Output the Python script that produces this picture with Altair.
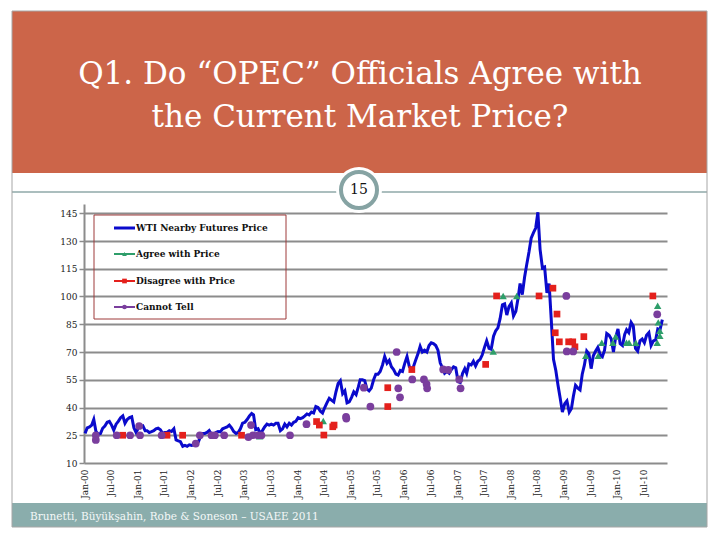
import altair as alt
import pandas as pd

# ---------------- data ----------------
# WTI nearby futures price, two readings per month (around the 8th and the 23rd)
wti_2000 = [26.0, 29.0, 29.5, 30.5, 33.5, 27.0, 25.5, 25.9, 28.8, 30.0, 32.0, 32.5,
            30.5, 27.8, 31.0, 32.5, 34.5, 35.5, 31.5, 33.5, 34.5, 35.0, 29.0, 26.5]
wti_2001 = [29.0, 29.5, 30.0, 27.5, 27.5, 26.5, 27.0, 27.5, 28.5, 28.8, 28.0, 26.0,
            26.5, 26.5, 27.5, 27.0, 28.5, 22.5, 22.0, 21.5, 19.0, 19.5, 19.0, 19.8]
wti_2002 = [19.5, 19.8, 20.5, 21.5, 24.0, 26.0, 26.0, 26.5, 27.5, 25.5, 25.0, 26.5,
            27.0, 26.8, 28.5, 29.0, 29.5, 30.5, 29.0, 27.0, 26.0, 26.5, 28.5, 31.5]
wti_2003 = [32.0, 33.5, 35.5, 36.8, 36.0, 28.0, 28.5, 26.0, 27.5, 29.5, 31.0, 30.5,
            31.0, 30.5, 31.5, 31.5, 27.5, 28.5, 31.0, 29.5, 31.5, 30.5, 32.0, 32.5]
wti_2004 = [34.5, 34.0, 34.5, 35.5, 36.5, 36.0, 37.5, 37.0, 40.5, 40.0, 38.0, 37.0,
            40.0, 42.5, 45.0, 44.0, 43.0, 48.5, 53.0, 54.5, 47.5, 49.0, 42.5, 43.0]
wti_2005 = [45.5, 48.5, 47.0, 51.0, 55.0, 55.0, 54.5, 50.0, 49.0, 50.5, 55.0, 58.0,
            58.0, 59.5, 63.0, 67.5, 64.0, 65.5, 62.0, 60.5, 58.0, 57.5, 60.0, 59.5]
wti_2006 = [64.0, 67.5, 62.0, 61.0, 62.0, 65.5, 69.0, 73.0, 70.0, 71.0, 70.0, 73.5,
            75.0, 74.5, 73.5, 71.0, 64.0, 61.5, 58.5, 59.5, 58.5, 60.5, 62.0, 61.5]
wti_2007 = [54.0, 53.5, 58.5, 61.0, 58.5, 63.5, 63.0, 65.0, 62.5, 65.0, 66.0, 68.5,
            72.5, 76.0, 72.0, 71.5, 78.5, 81.5, 83.0, 88.0, 95.5, 96.0, 90.0, 94.5]
wti_2008 = [96.5, 89.5, 92.0, 99.0, 107.0, 101.0, 110.5, 117.5, 124.0, 131.5, 134.5, 137.0,
            145.5, 125.5, 115.5, 116.0, 102.0, 107.0, 87.0, 66.0, 60.0, 52.0, 45.0, 37.5]
wti_2009 = [42.0, 43.5, 37.5, 39.5, 46.0, 52.0, 50.5, 49.5, 58.0, 63.0, 70.5, 69.0,
            61.0, 68.0, 70.5, 72.5, 68.5, 67.5, 71.0, 80.0, 79.0, 77.0, 70.0, 78.0]
wti_2010 = [82.5, 74.5, 73.5, 79.5, 82.0, 80.5, 86.0, 84.0, 72.0, 70.5, 76.0, 77.0,
            75.0, 79.0, 80.5, 73.5, 76.0, 76.5, 82.5, 82.0, 87.5]
wti_years = [wti_2000, wti_2001, wti_2002, wti_2003, wti_2004, wti_2005,
             wti_2006, wti_2007, wti_2008, wti_2009, wti_2010]
reading_days = [8, 23]

agree_dates = ["2003-04-19", "2004-06-28", "2007-09-06", "2007-11-13", "2008-02-14",
               "2009-06-01", "2009-08-25", "2009-09-19", "2009-12-04", "2009-12-23",
               "2010-03-07", "2010-03-25", "2010-05-10", "2010-10-07", "2010-10-11",
               "2010-10-22", "2010-10-22", "2010-10-04"]
agree_values = [24.5, 32.7, 70.2, 100.3, 100.3,
                67.9, 67.9, 75.0, 75.0, 78.3,
                75.0, 75.0, 75.0, 95.0, 86.0,
                81.4, 78.7, 75.0]

disagree_dates = ["2000-09-22", "2001-07-23", "2001-11-07", "2002-12-16", "2004-05-13",
                  "2004-06-01", "2004-07-02", "2004-09-01", "2004-09-10", "2005-09-13",
                  "2005-09-13", "2006-02-25", "2007-07-16", "2007-09-29", "2008-07-16",
                  "2008-10-19", "2008-11-16", "2008-11-04", "2008-12-02", "2009-02-04",
                  "2009-03-04", "2009-03-19", "2009-05-19", "2010-09-04"]
disagree_values = [25.0, 25.0, 25.0, 25.0, 32.4,
                   30.5, 25.1, 29.6, 30.5, 50.7,
                   40.5, 60.5, 63.3, 100.3, 100.3,
                   104.5, 90.5, 80.4, 75.5, 75.5,
                   75.5, 72.8, 78.3, 100.3]

cannot_dates = ["2000-03-22", "2000-03-22", "2000-08-12", "2000-11-12", "2001-01-13",
                "2001-01-19", "2001-06-16", "2002-02-05", "2002-03-05", "2002-05-24",
                "2002-06-16", "2002-08-19", "2003-02-01", "2003-02-19", "2003-03-04",
                "2003-04-08", "2003-05-01", "2003-11-13", "2004-03-05", "2004-12-01",
                "2004-12-03", "2005-04-02", "2005-05-17", "2005-11-13", "2005-11-24",
                "2005-12-06", "2006-02-28", "2006-05-19", "2006-06-06", "2006-06-10",
                "2006-09-28", "2006-11-02", "2007-01-16", "2007-01-25", "2009-01-19",
                "2009-01-22", "2009-03-07", "2010-10-04"]
cannot_values = [25.0, 22.5, 25.0, 25.0, 30.0,
                 25.0, 25.0, 20.5, 25.0, 25.0,
                 25.0, 25.0, 24.0, 30.5, 25.0,
                 25.0, 25.0, 25.0, 31.0, 35.0,
                 34.0, 50.7, 40.5, 70.0, 50.4,
                 45.5, 55.2, 55.2, 52.7, 50.4,
                 60.6, 60.3, 55.2, 50.4, 100.3,
                 70.3, 70.3, 90.4]

series_names = ["WTI Nearby Futures Price", "Agree with Price",
                "Disagree with Price", "Cannot Tell"]
series_colors = ["#0A0ACC", "#2E9E6A", "#E4201C", "#7A3E9D"]
y_ticks = [10, 25, 40, 55, 70, 85, 100, 115, 130, 145]
x_tick_dates = [(y, m) for y in range(2000, 2011) for m in (1, 7)]
title_lines = ["Q1. Do \u201cOPEC\u201d Officials Agree with", "the Current Market Price?"]
footer_text = "Brunetti, B\u00fcy\u00fck\u015fahin, Robe & Soneson \u2013 USAEE 2011"
slide_number = "15"

# ---------------- tables ----------------
wti_rows = []
for i, vals in enumerate(wti_years):
    year = 2000 + i
    for j, v in enumerate(vals):
        month = j // 2 + 1
        day = reading_days[j % 2]
        wti_rows.append({"date": f"{year}-{month:02d}-{day:02d}", "price": v})
wti_df = pd.DataFrame(wti_rows)
agree_df = pd.DataFrame({"date": agree_dates, "price": agree_values})
disagree_df = pd.DataFrame({"date": disagree_dates, "price": disagree_values})
cannot_df = pd.DataFrame({"date": cannot_dates, "price": cannot_values})

# ---------------- layout ----------------
W, H = 583, 259
PAD_L, PAD_T = 76, 196
PAD_R = 704 - PAD_L - W
PAD_B = 524 - PAD_T - H
SERIF = "DejaVu Serif"
GRID = "#8C8C8C"

x_scale = alt.Scale(type="utc",
                    domain=[alt.DateTime(year=2000, month=1, date=1, utc=True),
                            alt.DateTime(year=2010, month=12, date=10, utc=True)])
y_scale = alt.Scale(domain=[10, 150], nice=False, zero=False)

x_axis = alt.Axis(values=[alt.DateTime(year=y, month=m, date=1, utc=True) for y, m in x_tick_dates],
                  labelExpr="utcFormat(datum.value, '%b-%y')",
                  labelAngle=270, labelFont=SERIF, labelFontSize=9, labelColor="#222222",
                  labelPadding=6, labelOverlap=False, labelFlush=False,
                  ticks=False, domain=False, grid=False, title=None)
y_axis = alt.Axis(values=y_ticks, grid=True, gridColor=GRID, gridWidth=2, gridOpacity=1,
                  domainColor=GRID, domainWidth=2, tickColor=GRID, tickWidth=1.5, tickSize=5,
                  labelFont=SERIF, labelFontSize=9, labelColor="#222222", labelPadding=2,
                  title=None)

X = alt.X("date:T", scale=x_scale, axis=x_axis)
Y = alt.Y("price:Q", scale=y_scale, axis=y_axis)

one = pd.DataFrame({"k": [0]})

def box(x1, x2, y1, y2, **kw):
    return alt.Chart(one).mark_rect(**kw).encode(
        x=alt.value(x1), x2=alt.value(x2), y=alt.value(y1), y2=alt.value(y2))

def label(txt, x, y, **kw):
    return alt.Chart(pd.DataFrame({"t": [txt]})).mark_text(**kw).encode(
        x=alt.value(x), y=alt.value(y), text="t:N")

# slide decoration (coordinates relative to plot origin)
L, R = -72, 623
title_band = box(L, R, -193, -31, color="#CC6549")
bottom_band = box(L, R, 299, 323, color="#8AADAC")
separator = alt.Chart(one).mark_rule(color="#8FA8A8", strokeWidth=1.5).encode(
    x=alt.value(L), x2=alt.value(R), y=alt.value(-12))
halo = alt.Chart(one).mark_point(shape="circle", filled=True, color="white", size=2116,
                                 opacity=1).encode(x=alt.value(275), y=alt.value(-14))
ring = alt.Chart(one).mark_point(shape="circle", filled=False, stroke="#86A3A3", fill="white",
                                 strokeWidth=4, size=1296, opacity=1).encode(
    x=alt.value(275), y=alt.value(-14))
num = label(slide_number, 275, -14, font=SERIF, fontSize=14, color="#111111",
            align="center", baseline="middle")
title1 = label(title_lines[0], 276, -120, font=SERIF, fontSize=31, color="white",
               align="center", baseline="alphabetic")
title2 = label(title_lines[1], 276, -77, font=SERIF, fontSize=31, color="white",
               align="center", baseline="alphabetic")
footer = label(footer_text, -54, 316, font=SERIF, fontSize=10.5, color="#F4F8F8",
               align="left", baseline="alphabetic")
border = box(L, R, -193, 323, fill="white", fillOpacity=0, stroke="#A6A6A6", strokeWidth=1)

# data layers
wti_line = alt.Chart(wti_df).mark_line(color=series_colors[0], strokeWidth=3).encode(x=X, y=Y)
agree_pts = alt.Chart(agree_df).mark_point(shape="triangle-up", filled=True, size=55,
                                           color=series_colors[1], opacity=1).encode(x=X, y=Y)
disagree_pts = alt.Chart(disagree_df).mark_point(shape="square", filled=True, size=45,
                                                 color=series_colors[2], opacity=1).encode(x=X, y=Y)
cannot_pts = alt.Chart(cannot_df).mark_point(shape="circle", filled=True, size=60,
                                             color=series_colors[3], opacity=1).encode(x=X, y=Y)

# legend
leg_layers = [box(10, 202, 11, 115, fill="white", fillOpacity=0, stroke="#9E3A3A", strokeWidth=1)]
row_y = [24, 50, 77, 103]
marker_shapes = [None, "triangle-up", "square", "circle"]
for name, col, ry, shp in zip(series_names, series_colors, row_y, marker_shapes):
    leg_layers.append(alt.Chart(one).mark_rule(color=col, strokeWidth=3 if shp is None else 2).encode(
        x=alt.value(30), x2=alt.value(51), y=alt.value(ry)))
    if shp is not None:
        leg_layers.append(alt.Chart(one).mark_point(shape=shp, filled=True, color=col, size=22,
                                                    opacity=1).encode(x=alt.value(40.5), y=alt.value(ry)))
    leg_layers.append(label(name, 52, ry, font=SERIF, fontSize=9, fontWeight="bold",
                            color="#111111", align="left", baseline="middle"))

chart = alt.layer(
    title_band, bottom_band, separator, halo, ring, num, title1, title2, footer, border,
    wti_line, agree_pts, disagree_pts, cannot_pts, *leg_layers
).properties(
    width=W, height=H, autosize="none",
    padding={"left": PAD_L, "top": PAD_T, "right": PAD_R, "bottom": PAD_B},
    background="white"
).configure_view(strokeWidth=0)

chart.save("out.html", embed_options={"renderer": "svg", "actions": False})
